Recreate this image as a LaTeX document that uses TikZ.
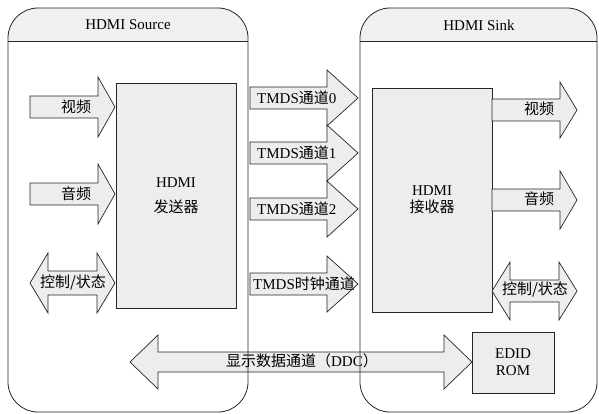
\documentclass[tikz,border=0pt]{standalone}
\usepackage{fontspec}
\setmainfont{Liberation Serif}
\newfontfamily\cjk{Noto Sans CJK SC}
\tikzset{
  frame/.style={draw=black!85, line width=0.8pt},
  hdr/.style={fill=black!6},
  box/.style={draw=black!85, fill=black!7, line width=0.8pt, inner sep=0pt},
  fat/.style={draw=black!85, fill=black!7, line width=0.7pt, line join=miter},
  lbl/.style={inner sep=0pt, font=\rmfamily\fontsize{15}{17}\selectfont},
}
\newcommand\fatarrow[6]{\draw[fat] (#1,#4-#5) -- (#2-#3,#4-#5) -- (#2-#3,#4-#6) -- (#2,#4) -- (#2-#3,#4+#6) -- (#2-#3,#4+#5) -- (#1,#4+#5) -- cycle;}
\newcommand\dblarrow[6]{\draw[fat] (#1,#4) -- (#1+#3,#4-#6) -- (#1+#3,#4-#5) -- (#2-#3,#4-#5) -- (#2-#3,#4-#6) -- (#2,#4) -- (#2-#3,#4+#6) -- (#2-#3,#4+#5) -- (#1+#3,#4+#5) -- (#1+#3,#4+#6) -- cycle;}
\begin{document}
\begin{tikzpicture}[x=1pt, y=-1pt]
    \useasboundingbox (0,0) rectangle (599,414);
    \begin{scope}
        \clip[rounded corners=30pt] (8,8) rectangle (248,412);
        \fill[hdr] (8,8) rectangle (248,41);
    \end{scope}
    \begin{scope}
        \clip[rounded corners=30pt] (360,8) rectangle (597,412);
        \fill[hdr] (360,8) rectangle (597,41);
    \end{scope}
    \node[lbl] (srct) at (128,25) {HDMI Source};
    \node[lbl] (sinkt) at (479,25) {HDMI Sink};

    \fatarrow{250}{358}{31}{98}{11}{28}
    \fatarrow{250}{358}{31}{153}{11}{28}
    \fatarrow{250}{358}{31}{209}{11}{28}
    \fatarrow{250}{358}{31}{284}{11}{28}
    \node[lbl, anchor=west] (ch0) at (257,98) {TMDS{\cjk 通道}0};
    \node[lbl, anchor=west] (ch1) at (257,153) {TMDS{\cjk 通道}1};
    \node[lbl, anchor=west] (ch2) at (257,209) {TMDS{\cjk 通道}2};
    \node[lbl, anchor=west] (clk) at (253,284) {TMDS{\cjk 时钟通道}};

    \node[box, lbl, minimum width=120pt, minimum height=225pt, align=center] (tx) at (176,196) {HDMI\\[8pt]{\cjk 发送器}};
    \fatarrow{30}{115}{17}{107}{11}{30}
    \fatarrow{30}{115}{17}{194}{11}{30}
    \dblarrow{30}{115}{18}{283}{12}{30}
    \node[lbl] (vin) at (76,107) {\cjk 视频};
    \node[lbl] (ain) at (76,194) {\cjk 音频};
    \node[lbl] (cin) at (73,283) {\cjk 控制/状态};

    \node[box, lbl, minimum width=120pt, minimum height=224pt, align=center] (rx) at (432,200) {HDMI\\{\cjk 接收器}};
    \fatarrow{492}{577}{17}{110}{11}{28}
    \fatarrow{492}{577}{17}{200}{11}{29}
    \dblarrow{492}{577}{18}{291}{11}{29}
    \node[lbl] (vout) at (539,109) {\cjk 视频};
    \node[lbl] (aout) at (539,199) {\cjk 音频};
    \node[lbl] (cout) at (535,290) {\cjk 控制/状态};

    \dblarrow{130}{472}{28}{362}{10}{27}
    \node[box, lbl, minimum width=82pt, minimum height=61pt, align=center] (edid) at (513,362.5) {EDID\\ROM};
    \node[lbl] (ddc) at (302,361) {{\cjk 显示数据通道（}DDC{\cjk ）}};

    \draw[frame, rounded corners=30pt] (8,8) rectangle (248,412);
    \draw[frame] (8,41) -- (248,41);
    \draw[frame, rounded corners=30pt] (360,8) rectangle (597,412);
    \draw[frame] (360,41) -- (597,41);
\end{tikzpicture}
\end{document}
